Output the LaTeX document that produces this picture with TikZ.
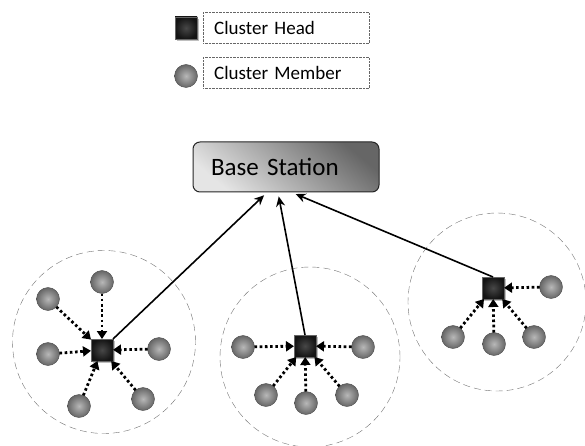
\documentclass[tikz,border=0pt]{standalone}
\usepackage{fontspec}
\setmainfont{Carlito}
\usetikzlibrary{arrows.meta,shadows}

\begin{document}
\begin{tikzpicture}[x=1pt,y=-1pt,
	head/.style={draw=black!60,rectangle,inner sep=0,outer sep=0,minimum size=22pt,inner color=black!72,outer color=black!92,drop shadow={shadow xshift=2pt,shadow yshift=-2pt,fill=black!25,opacity=1}},
	member/.style={draw=black!70,circle,inner sep=0,outer sep=0,minimum size=23pt,inner color=black!28,outer color=black!60},
	cluster/.style={draw=black!55,dash pattern=on 7pt off 4pt,circle,inner sep=0},
	link/.style={dash pattern=on 2.6pt off 2.6pt,line width=2.8pt,-{Triangle[length=8pt,width=10pt]}},
	uplink/.style={line width=1.6pt,-{Stealth[length=10pt,width=9pt]},shorten >=4pt},
	legend/.style={draw=black!60,densely dotted,inner xsep=11pt,inner ysep=0,text width=144pt,minimum height=31pt,align=left,anchor=west,font=\fontsize{19}{22}\selectfont}]
	\clip (0,0) rectangle (585,446);
	% legend
	\node[head] (lh) at (186,28) {};
	\node[member] (lm) at (186,76) {};
	\node[legend] (lht) at (203,28) {Cluster Head};
	\node[legend] (lmt) at (203,73) {Cluster Member};
	% base station
	\node[draw=black!85,line width=1pt,rounded corners=7pt,inner xsep=18pt,text width=150pt,align=left,minimum height=50pt,top color=black!60,bottom color=black!10,shading angle=-40,font=\fontsize{25}{28}\selectfont] (bs) at (286,167) {Base Station};
	% cluster 1
	\node[cluster,minimum size=183pt] (c1) at (104,342) {};
	\node[head] (h1) at (102,350) {};
	\node[member] (m1a) at (102,282) {};
	\node[member] (m1b) at (48,299) {};
	\node[member] (m1c) at (48,354) {};
	\node[member] (m1d) at (159,349) {};
	\node[member] (m1e) at (79,406) {};
	\node[member] (m1f) at (143,399) {};
	\foreach \m in {m1a,m1b,m1c,m1d,m1e,m1f}
		\draw[link] (\m) -- (h1);
	% cluster 2
	\node[cluster,minimum size=180pt] (c2) at (310,357) {};
	\node[head] (h2) at (305,346) {};
	\node[member] (m2a) at (243,347) {};
	\node[member] (m2b) at (363,347) {};
	\node[member] (m2c) at (266,395) {};
	\node[member] (m2d) at (306,403) {};
	\node[member] (m2e) at (347,395) {};
	\foreach \m in {m2a,m2b,m2c,m2d,m2e}
		\draw[link] (\m) -- (h2);
	% cluster 3
	\node[cluster,minimum size=178pt] (c3) at (497,302) {};
	\node[head] (h3) at (493,288) {};
	\node[member] (m3a) at (551,287) {};
	\node[member] (m3b) at (453,337) {};
	\node[member] (m3c) at (494,344) {};
	\node[member] (m3d) at (534,337) {};
	\foreach \m in {m3a,m3b,m3c,m3d}
		\draw[link] (\m) -- (h3);
	% to base station
	\draw[uplink] (h1.north east) -- ([xshift=-19pt]bs.south);
	\draw[uplink] (h2.north) -- ([xshift=-8pt]bs.south);
	\draw[uplink] (h3.north) -- ([xshift=6pt]bs.south);
\end{tikzpicture}
\end{document}
